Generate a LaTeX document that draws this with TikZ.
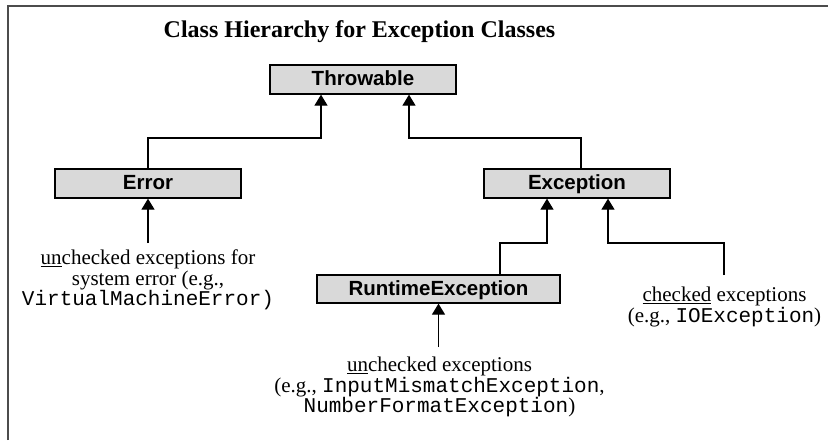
\documentclass[tikz,border=0pt]{standalone}
\usepackage{fontspec}
\setmainfont{Liberation Serif}
\setsansfont{Liberation Sans}
\setmonofont{Liberation Mono}
\usetikzlibrary{arrows.meta}

\tikzset{
  classbox/.style={draw, line width=1.3pt, fill=black!15, inner sep=0pt,
    minimum width=186pt, minimum height=29pt, text height=15.5pt, text depth=3.5pt,
    font=\fontsize{20.5}{22}\selectfont\sffamily\bfseries},
  note/.style={align=center, inner sep=0pt, anchor=north,
    font=\fontsize{21}{20.5}\selectfont},
  arr/.style={line width=1.3pt, -{Triangle[width=13pt,length=11pt]}}
}

\begin{document}
\begin{tikzpicture}[x=1pt,y=-1pt]
  \useasboundingbox (0,0) rectangle (828,440);

  % Rahmen (nur oben und links sichtbar)
  \draw[line width=2pt, black!70] (8,440) -- (8,5.5) -- (828,5.5);

  % Titel
  \node[anchor=base, font=\fontsize{24}{26}\selectfont\bfseries] (title) at (359.5,37)
    {Class Hierarchy for Exception Classes};

  % Klassen
  \node[classbox] (throwable) at (363,79.5) {Throwable};
  \node[classbox] (error) at (148,183.5) {Error};
  \node[classbox] (exception) at (577,183.5) {Exception};
  \node[classbox, minimum width=243pt, minimum height=28pt] (runtime) at (438.5,289)
    {RuntimeException};

  % Vererbung
  \draw[arr] (error.north) |- (321,138) -- ([xshift=-42pt]throwable.south);
  \draw[arr] ([xshift=4pt]exception.north) |- (409,138) -- ([xshift=46pt]throwable.south);
  \draw[arr] ([xshift=61.5pt]runtime.north) |- (547,243) -- ([xshift=-30pt]exception.south);
  \coordinate (checkedtop) at (724,275);
  \draw[arr] (checkedtop) |- (608,243) -- ([xshift=31pt]exception.south);

  % Beschreibungen
  \node[note] (errnote) at (148,250)
    {\underline{un}checked exceptions for\\ system error (e.g.,\\ \texttt{VirtualMachineError)}};
  \node[note] (checkednote) at (724.5,287)
    {\underline{checked} exceptions\\ (e.g., \texttt{IOException})};
  \node[note] (rtnote) at (439.5,357)
    {\underline{un}checked exceptions\\ (e.g., \texttt{InputMismatchException},\\ \texttt{NumberFormatException})};

  \coordinate (errfoot) at (148,243);
  \coordinate (rtfoot) at (438.5,347);
  \draw[arr] (errfoot) -- (error.south);
  \draw[arr] (rtfoot) -- (runtime.south);
\end{tikzpicture}
\end{document}
